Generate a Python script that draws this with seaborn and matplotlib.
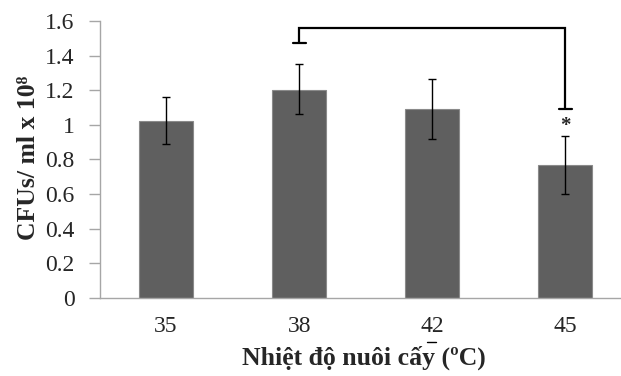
import matplotlib
matplotlib.use("Agg")
import matplotlib.pyplot as plt
from matplotlib.lines import Line2D
import seaborn as sns
import pandas as pd

# Data
temperatures = ["35", "38", "42", "45"]
cfu_means = [1.02, 1.20, 1.09, 0.765]
err_low = [0.887, 1.06, 0.916, 0.597]
err_high = [1.163, 1.349, 1.266, 0.935]

# significance bracket between 38 and 45
bracket_pair = ["38", "45"]
bracket_start_y = 1.475
bracket_top_y = 1.558
bracket_end_y = 1.09
star_y = 0.995

sns.set_theme(style="white")
plt.rcParams['font.family'] = ['Liberation Serif', 'DejaVu Serif']

df = pd.DataFrame({"temp": temperatures, "cfu": cfu_means})

fig = plt.figure(figsize=(6.21, 3.76), dpi=100)
W, H = 621, 376
x0, x_end = 99.5, 632
y_top, y_base = 21, 297.7
ax = fig.add_axes([x0 / W, 1 - y_base / H, (x_end - x0) / W, (y_base - y_top) / H])

sns.barplot(data=df, x="temp", y="cfu", order=temperatures, color="#5f5f5f",
            saturation=1, width=0.405, errorbar=None, edgecolor="#8a8a8a",
            linewidth=0.8, ax=ax)

pos = list(range(len(temperatures)))
lower = [m - l for m, l in zip(cfu_means, err_low)]
upper = [h - m for m, h in zip(cfu_means, err_high)]
ax.errorbar(pos, cfu_means, yerr=[lower, upper], fmt="none", ecolor="black",
            elinewidth=1.0, capsize=3.2, capthick=1.0, zorder=5)

# bracket
xa = temperatures.index(bracket_pair[0])
xb = temperatures.index(bracket_pair[1])
ax.plot([xa, xa, xb, xb], [bracket_start_y, bracket_top_y, bracket_top_y, bracket_end_y],
        color="black", lw=1.6, solid_capstyle="butt", solid_joinstyle="miter",
        clip_on=False, zorder=6)
cap = 0.05
ax.plot([xa - cap, xa + cap], [bracket_start_y, bracket_start_y], color="black", lw=1.6, clip_on=False)
ax.plot([xb - cap, xb + cap], [bracket_end_y, bracket_end_y], color="black", lw=1.6, clip_on=False)
ax.text(xb, star_y, "*", ha="center", va="center", fontsize=15, fontweight="bold")

ax.set_xlim(-0.5, 3.5)
ax.set_ylim(0, 1.6)
ax.set_yticks([0, 0.2, 0.4, 0.6, 0.8, 1.0, 1.2, 1.4, 1.6])
ax.set_yticklabels(["0", "0.2", "0.4", "0.6", "0.8", "1", "1.2", "1.4", "1.6"])

for s in ["top", "right"]:
    ax.spines[s].set_visible(False)
for s in ["left", "bottom"]:
    ax.spines[s].set_color("#a6a6a6")
    ax.spines[s].set_linewidth(1.0)

ax.tick_params(axis="y", direction="out", length=8, width=1.0, color="#a6a6a6",
               pad=10, labelsize=17, left=True)
ax.tick_params(axis="x", length=0, pad=13, labelsize=17)

ax.set_xlabel("Nhiệt độ nuôi cấy (ºC)", fontsize=18.5, fontweight="bold")
ax.set_ylabel("CFUs/ ml x 10⁸", fontsize=18.5, fontweight="bold")
ax.xaxis.set_label_coords((364 - x0) / (x_end - x0), -(346 - y_base) / (y_base - y_top))
ax.yaxis.set_label_coords(-(99.5 - 40) / (x_end - x0), 0.505)

# small stray mark under the "42" label
fig.add_artist(Line2D([427 / W, 436 / W], [1 - 342 / H, 1 - 342 / H], color="black", lw=1.0))

fig.savefig("out.png", dpi=100)
